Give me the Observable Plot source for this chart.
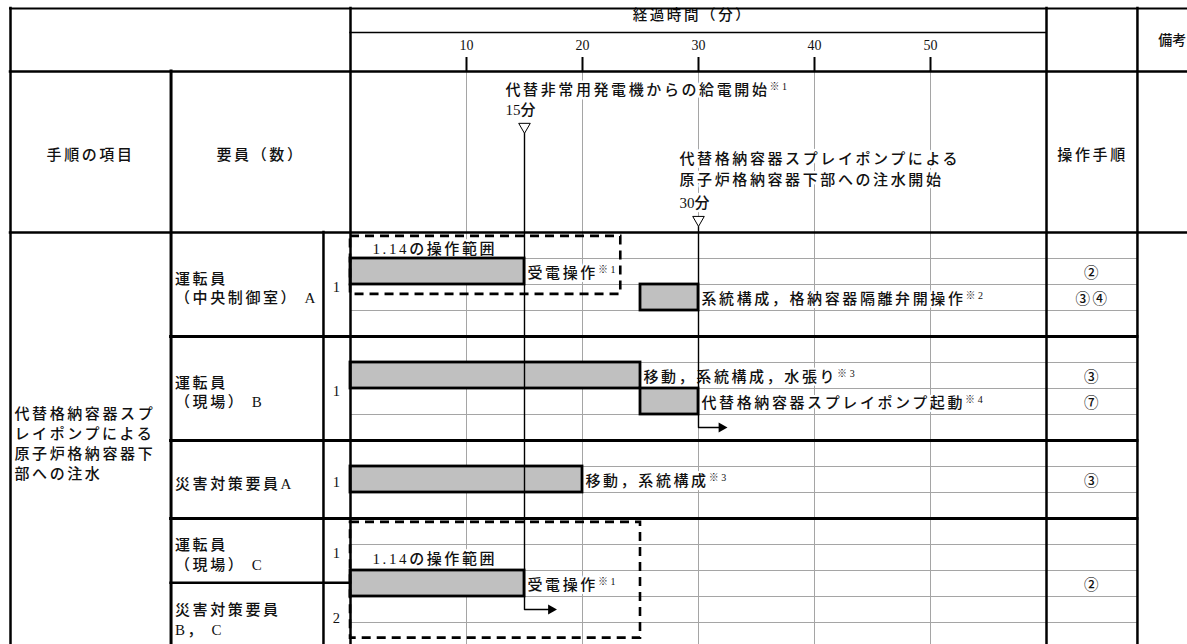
<!DOCTYPE html>
<html>
<head>
<meta charset="utf-8">
<script src="https://cdn.jsdelivr.net/npm/d3@7"></script>
<script src="https://cdn.jsdelivr.net/npm/@observablehq/plot@0.6"></script>
<style>
  html, body { margin: 0; padding: 0; background: #fff; }
  #chart svg { display: block; }
</style>
</head>
<body>
<div id="chart"></div>
<script>
// ---------------- data ----------------
const minuteTicks = [10, 20, 30, 40, 50];
const timeAxisTitle = "経過時間（分）";
const columnTitles = ["手順の項目", "要員（数）", "操作手順"];
const noteTitle = "備考";

const procedureItem = ["代替格納容器スプ", "レイポンプによる", "原子炉格納容器下", "部への注水"];

const staffLabel = ["運転員\n（中央制御室） A", "運転員\n（現場） B", "災害対策要員A", "運転員\n（現場） C", "災害対策要員\nB， C"];
const staffCount = [1, 1, 1, 1, 2];
const staffRowFrom = [0, 4, 8, 11, 13.47];
const staffRowTo = [4, 8, 11, 13.47, 16];

const taskLabel = ["受電操作※1", "系統構成，格納容器隔離弁開操作※2", "移動，系統構成，水張り※3", "代替格納容器スプレイポンプ起動※4", "移動，系統構成※3", "受電操作※1"];
const taskStart = [0, 25, 0, 25, 0, 0];
const taskEnd = [15, 30, 25, 30, 20, 15];
const taskRow = [1, 2, 5, 6, 9, 13];
const taskStep = ["②", "③④", "③", "⑦", "③", "②"];

const scopeLabel = ["1.14の操作範囲", "1.14の操作範囲"];
const scopeFrom = [0, 0];
const scopeTo = [23.3, 25];
const scopeRowFrom = [0.15, 11.15];
const scopeRowTo = [2.38, 15.6];

const milestoneMinute = [15, 30];
const milestoneTitle = ["代替非常用発電機からの給電開始※1", "代替格納容器スプレイポンプによる\n原子炉格納容器下部への注水開始"];
const milestoneTime = ["15分", "30分"];
const handoffRow = [14.5, 7.5];
const handoffTo = [17.8, 32.5];

const groupBreaks = [4, 8, 11];
const subRowCount = 16;

// ---------------- layout (scale units: minutes / sub-rows) ----------------
const L = {
  left: -29.31, item: -15.47, count: -2.33, chart0: 0, chart1: 60, step: 67.84, right: 72.6,
  top: -8.615, axisLine: -7.69, tickTop: -6.73, head: -6.19, body: 0, bottom: 16,
  titleY: -8.35, titleDx: -6, tickLabelY: -7.19, noteX: 70.85, noteY: -7.38,
  colTitleX: [-22.41, -7.76, 63.97], colTitleY: -2.96,
  itemX: -28.97, itemY: 8.08, staffX: -15.13, countX: -1.21, stepX: 63.97,
  msTitleY: [-5.54, -2.48], msTimeY: [-4.69, -1.115], msTriY: [-4.07, -0.49], msLineFrom: [-3.81, -0.23],
  msDx: -19, scopeLabelY: [0.65, 12.55], scopeDx: 22
};
const FONT = '"Liberation Serif", "Noto Sans CJK JP", serif';
const INK = "#000", GRID = "#a5a5a5", BAR = "#c0c0c0";
const txt = {fontFamily: FONT, fontSize: 15, fontWeight: 500, fill: "#111"};
const halo = {stroke: "white", strokeWidth: 5, strokeLinejoin: "round", paintOrder: "stroke"};

// ---------------- derived tables ----------------
const tasks = taskLabel.map((label, i) => ({label, start: taskStart[i], end: taskEnd[i], row: taskRow[i], step: taskStep[i]}));
const staff = staffLabel.map((label, i) => ({label, count: staffCount[i], from: staffRowFrom[i], to: staffRowTo[i]}));
const scopes = scopeLabel.map((label, i) => ({label, from: scopeFrom[i], to: scopeTo[i], y1: scopeRowFrom[i], y2: scopeRowTo[i], ly: L.scopeLabelY[i]}));
const milestones = milestoneMinute.map((m, i) => ({minute: m, title: milestoneTitle[i], time: milestoneTime[i], row: handoffRow[i], to: handoffTo[i], i}));
const subRows = d3.range(1, subRowCount).filter(r => !groupBreaks.includes(r));
const msPath = milestones.flatMap(d => [
  {id: d.i, x: d.minute, y: L.msLineFrom[d.i]},
  {id: d.i, x: d.minute, y: d.row},
  {id: d.i, x: d.to - 0.5, y: d.row}
]);

const frameV = [
  {x: L.left, y1: L.top, y2: L.bottom, w: 2.5},
  {x: L.item, y1: L.head, y2: L.bottom, w: 3},
  {x: L.count, y1: L.body, y2: L.bottom, w: 2.5},
  {x: L.chart0, y1: L.top, y2: L.bottom, w: 2.5},
  {x: L.chart1, y1: L.top, y2: L.bottom, w: 2.5},
  {x: L.step, y1: L.top, y2: L.bottom, w: 2.5}
];
const frameH = [
  {y: L.top, x1: L.left, x2: L.right, w: 2},
  {y: L.axisLine, x1: L.chart0, x2: L.chart1, w: 1.5},
  {y: L.head, x1: L.left, x2: L.right, w: 2.5},
  {y: L.body, x1: L.left, x2: L.right, w: 2.5},
  ...groupBreaks.map(y => ({y, x1: L.item, x2: L.step, w: 3})),
  {y: staffRowFrom[4], x1: L.item, x2: L.chart0, w: 2.5}
];

const plot = Plot.plot({
  width: 1187, height: 644,
  marginLeft: 350, marginRight: 141, marginTop: 232, marginBottom: 0,
  style: "background:#fff;letter-spacing:2.6px;",
  x: {domain: [0, 60], axis: null},
  y: {domain: [0, 412 / 26], reverse: true, axis: null},
  marks: [
    // grid
    Plot.ruleX(minuteTicks, {x: d => d, y1: L.head, y2: L.bottom, stroke: GRID, strokeWidth: 1}),
    Plot.ruleY(subRows, {y: d => d, x1: L.chart0, x2: L.step, stroke: GRID, strokeWidth: 1}),
    Plot.ruleX(minuteTicks, {x: d => d, y1: L.tickTop, y2: L.head, stroke: INK, strokeWidth: 2}),

    // header texts
    Plot.text([timeAxisTitle], {x: 30, y: L.titleY, dx: L.titleDx, text: d => d, ...txt, fontSize: 14.5}),
    Plot.text(minuteTicks, {x: d => d, y: L.tickLabelY, text: d => String(d), ...txt, fontSize: 14}),
    Plot.text([noteTitle], {x: L.noteX, y: L.noteY, text: d => d, ...txt, fontSize: 14}),
    Plot.text(columnTitles, {x: (d, i) => L.colTitleX[i], y: L.colTitleY, text: d => d, ...txt}),

    // milestone annotations
    Plot.text(milestones, {x: "minute", y: d => L.msTitleY[d.i], dx: L.msDx, text: "title", textAnchor: "start", lineHeight: 1.4, ...txt, ...halo}),
    Plot.text(milestones, {x: "minute", y: d => L.msTimeY[d.i], dx: L.msDx, text: "time", textAnchor: "start", ...txt, ...halo}),

    // left columns
    Plot.text([procedureItem.join("\n")], {x: L.itemX, y: L.itemY, text: d => d, textAnchor: "start", lineHeight: 1.333, ...txt}),
    Plot.text(staff, {x: L.staffX, y: d => (d.from + d.to) / 2 + 0.1, text: "label", textAnchor: "start", lineHeight: 1.333, ...txt}),
    Plot.text(staff, {x: L.countX, y: d => (d.from + d.to) / 2 + 0.1, text: d => String(d.count), ...txt, fontSize: 14.5}),

    // task labels and steps
    Plot.text(tasks, {x: "end", y: d => d.row + 0.55, dx: 3, text: "label", textAnchor: "start", ...txt, ...halo, strokeWidth: 4}),
    Plot.text(tasks, {x: L.stepX, y: d => d.row + 0.58, text: "step", ...txt, fontSize: 14.5}),
    Plot.text(scopes, {x: "from", y: "ly", dx: L.scopeDx, text: "label", textAnchor: "start", ...txt, ...halo, strokeWidth: 4}),

    // bars
    Plot.rect(tasks, {x1: "start", x2: "end", y1: "row", y2: d => d.row + 1, fill: BAR, stroke: INK, strokeWidth: 2.8}),

    // 1.14 scope boxes
    Plot.rect(scopes, {x1: "from", x2: "to", y1: "y1", y2: "y2", fill: "none", stroke: INK, strokeWidth: 2.6, strokeDasharray: "9,6"}),

    // milestone lines and arrows
    Plot.line(msPath, {x: "x", y: "y", z: "id", stroke: INK, strokeWidth: 1.4, curve: "linear"}),
    Plot.dot(milestones, {x: d => d.to - 0.51, y: "row", symbol: "triangle", rotate: 90, r: 3.8, fill: INK, stroke: "none"}),
    Plot.dot(milestones, {x: "minute", y: d => L.msTriY[d.i], symbol: "triangle", rotate: 180, r: 4.3, fill: "white", stroke: INK, strokeWidth: 1}),

    // table frame
    Plot.ruleX(frameV, {x: "x", y1: "y1", y2: "y2", strokeWidth: "w", stroke: INK, strokeLinecap: "square"}),
    Plot.ruleY(frameH, {y: "y", x1: "x1", x2: "x2", strokeWidth: "w", stroke: INK, strokeLinecap: "square"})
  ]
});

// numbers and the 備考 heading without the wide letter spacing
plot.querySelectorAll("text").forEach(t => {
  if (t.querySelector("tspan")) return;
  if (/^[\d]+分?$/.test(t.textContent) || t.textContent === noteTitle) t.style.letterSpacing = "0px";
});

// footnote marks (※n) as superscripts
plot.querySelectorAll("text").forEach(t => {
  if (t.querySelector("tspan")) return;
  const m = t.textContent.match(/^(.*?)(※\d)$/);
  if (!m) return;
  t.textContent = m[1];
  const s = document.createElementNS("http://www.w3.org/2000/svg", "tspan");
  s.setAttribute("font-size", "10");
  s.setAttribute("dy", "-5");
  s.textContent = m[2];
  t.appendChild(s);
});

document.getElementById("chart").appendChild(plot);
</script>
</body>
</html>
